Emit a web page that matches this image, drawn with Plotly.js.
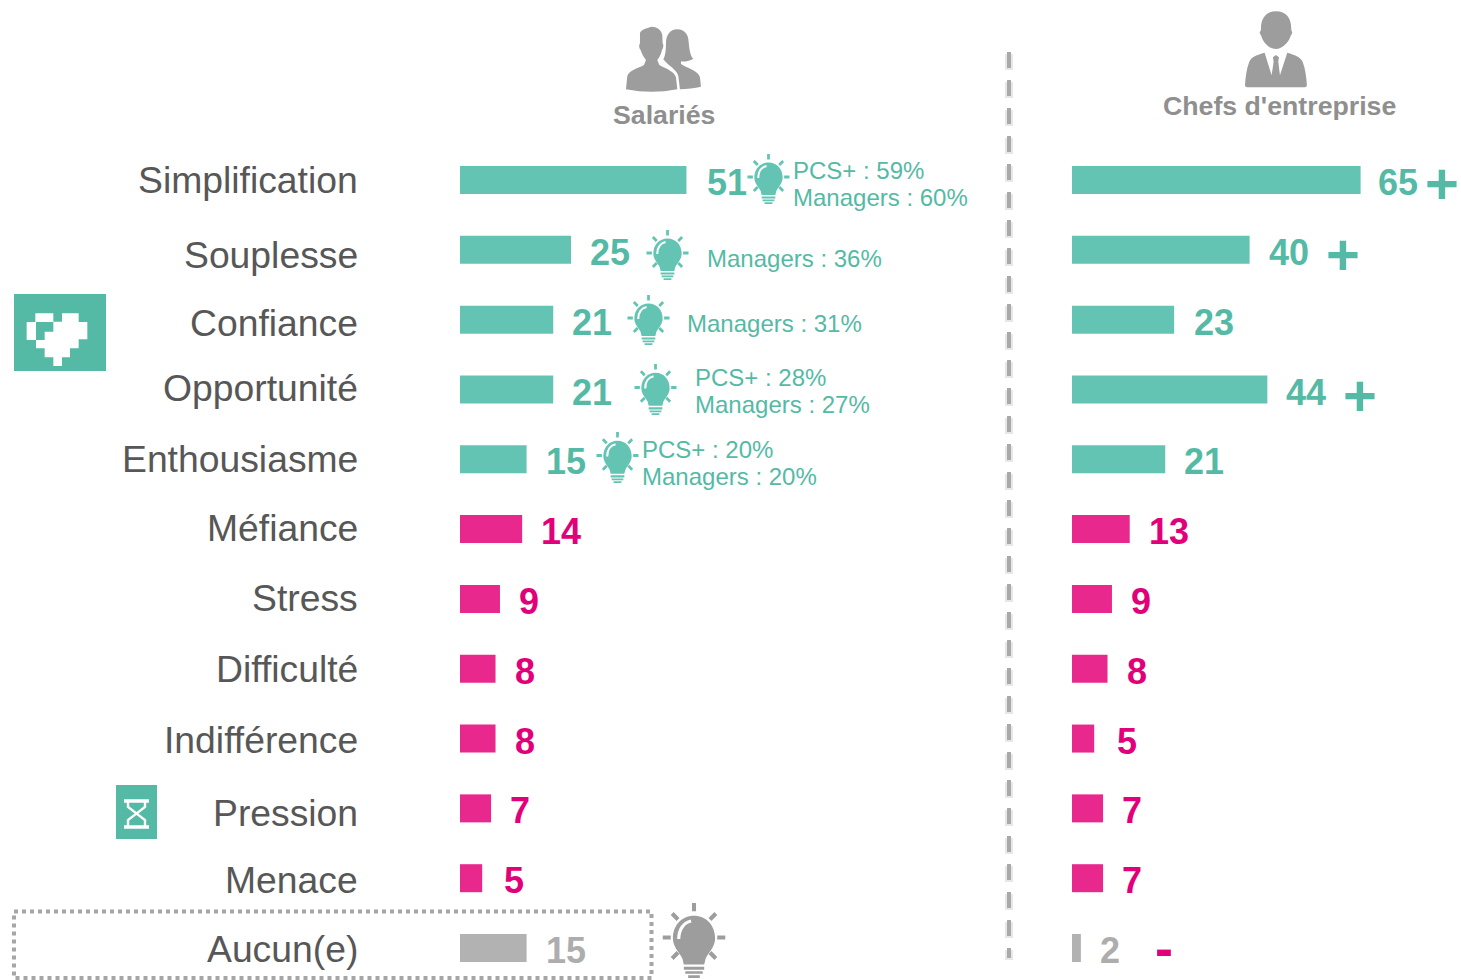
<!DOCTYPE html>
<html><head><meta charset="utf-8">
<script src="https://cdn.plot.ly/plotly-3.0.1.min.js"></script>
<style>html,body{margin:0;padding:0;background:#fff}</style>
</head><body><div id="chart" style="width:1461px;height:980px"></div>
<script>
const categories=["Simplification","Souplesse","Confiance","Opportunité","Enthousiasme","Méfiance","Stress","Difficulté","Indifférence","Pression","Menace","Aucun(e)"];
const salaries=[51,25,21,21,15,14,9,8,8,7,5,15];
const chefs=[65,40,23,44,21,13,9,8,5,7,7,2];
const groups=["pos","pos","pos","pos","pos","neg","neg","neg","neg","neg","neg","none"];
const notes1=["PCS+ : 59%","Managers : 36%","Managers : 31%","PCS+ : 28%","PCS+ : 20%"];
const notes2=["Managers : 60%","","","Managers : 27%","Managers : 20%"];

const W=1461,H=980,FONT='"Liberation Sans",Arial,sans-serif';
const barCol={pos:"#64C4B3",neg:"#E8288C",none:"#B2B2B2"};
const txtCol={pos:"#54BAA5",neg:"#E2007A",none:"#ADADAD"};
const TEAL="#54BAA5",GREY="#9D9D9D";
const px=x=>x/W, py=y=>1-y/H;
const unit=4.44, rowH=69.82, row0=180;

const labelShift=[0,5,3,-1,0,-1,-1,0,1,5,2,1];
const valueShift=[2.5,3,3,3,2.5,2,3,3,3,2,2,2];
const salGap=[20.5,19,18.5,18.5,19,19,19,19,19,19,22,19];
const chefGap=[17,19,19.5,19,19,19,19,19,22.5,19,19,19];

const traces=[
 {type:"bar",orientation:"h",y:categories,x:salaries,xaxis:"x",yaxis:"y",width:0.401,marker:{color:groups.map(g=>barCol[g])},hoverinfo:"skip",name:"Salariés"},
 {type:"bar",orientation:"h",y:categories,x:chefs,xaxis:"x2",yaxis:"y",width:0.401,marker:{color:groups.map(g=>barCol[g])},hoverinfo:"skip",name:"Chefs d'entreprise"}
];

const ann=[];
function add(o){ann.push(Object.assign({showarrow:false,borderpad:0,borderwidth:0,align:"left",xanchor:"left",yanchor:"middle"},o));}
function pTxt(t,x,y,size,color,extra){add(Object.assign({text:t,xref:"paper",yref:"paper",x:px(x),y:py(y),font:{family:FONT,size:size,color:color}},extra||{}));}

categories.forEach((c,i)=>{
  add({text:c,xref:"paper",yref:"y",x:px(357.5),y:c,yshift:-labelShift[i],xanchor:"right",align:"right",font:{family:FONT,size:37.3,color:"#575757"}});
  add({text:"<b>"+salaries[i]+"</b>",xref:"x",yref:"y",x:salaries[i],y:c,xshift:salGap[i],yshift:-valueShift[i],font:{family:FONT,size:36,color:txtCol[groups[i]]}});
  add({text:"<b>"+chefs[i]+"</b>",xref:"x2",yref:"y",x:chefs[i],y:c,xshift:chefGap[i],yshift:-valueShift[i],font:{family:FONT,size:36,color:txtCol[groups[i]]}});
});

pTxt("<b>Salariés</b>",664,115,26.7,"#8F8F8F",{xanchor:"center",align:"center"});
pTxt("<b>Chefs d'entreprise</b>",1279,106,26.7,"#8F8F8F",{xanchor:"center",align:"center"});

const noteX=[793,707,687,695,642];
const noteY1=[171,258,324,378,449];
noteX.forEach((x,i)=>{
  pTxt(notes1[i],x,noteY1[i],24,TEAL);
  if(notes2[i]) pTxt(notes2[i],x,noteY1[i]+27,24,TEAL);
});

pTxt("<b>+</b>",1441.5,183.5,58,TEAL,{xanchor:"center",align:"center"});
pTxt("<b>+</b>",1343,254.5,58,TEAL,{xanchor:"center",align:"center"});
pTxt("<b>+</b>",1360,396,58,TEAL,{xanchor:"center",align:"center"});
pTxt("<b>-</b>",1163.5,948,54,"#E2007A",{xanchor:"center",align:"center"});

const shapes=[
 {type:"line",xref:"paper",yref:"paper",x0:px(1009),x1:px(1009),y0:py(54),y1:py(960),line:{color:"rgba(170,170,170,0.28)",width:8,dash:"16px,12px"},layer:"below"},
 {type:"line",xref:"paper",yref:"paper",x0:px(1009),x1:px(1009),y0:py(52),y1:py(958),line:{color:"#A9A9A9",width:4,dash:"16px,12px"},layer:"below"},
 {type:"rect",xref:"paper",yref:"paper",x0:px(14),x1:px(651.5),y0:py(911.5),y1:py(978),line:{color:"#A6A6A6",width:4,dash:"4px,4px"},fillcolor:"rgba(0,0,0,0)",layer:"below"}
];

function bulb(c){return `<svg xmlns="http://www.w3.org/2000/svg" viewBox="0 0 44 50" preserveAspectRatio="none"><g stroke="${c}" stroke-width="2.8" fill="none"><path d="M22 0V5.5M0.5 23H6M38 23H43.5M7 7L11 11M37 7L33 11M7 37L11 33M37 37L33 33"/></g><path fill="${c}" d="M22 8.5C30.5 8.5 36.5 15 36.5 23.5C36.5 29.5 32 33 30 37L29 41H15L14 37C12 33 7.5 29.5 7.5 23.5C7.5 15 13.5 8.5 22 8.5Z"/><path d="M11.5 24C11.5 17.5 15 13 20 12" stroke="#fff" stroke-width="2.2" fill="none"/><path fill="${c}" d="M15 42.5H29V44.5H15ZM16 45.5H28V47.2H16ZM18 48.2H26V50H18Z"/></svg>`;}
const men=`<svg xmlns="http://www.w3.org/2000/svg" viewBox="70 70 240 210" preserveAspectRatio="none"><path fill="${GREY}" d="M155 80C170 80 185 90 187 105L188 130C192 135 190 145 186 150C183 165 178 172 172 180L178 195C195 205 222 212 228 232L232 268C180 278 130 278 78 268L82 228C88 210 115 205 132 195L138 180C130 170 125 160 122 150C117 145 116 135 120 130L120 100C122 88 140 85 155 80Z"/><path fill="${GREY}" d="M232 88C255 88 265 105 266 125C268 150 272 170 280 176C270 182 255 186 243 184L243 192C262 205 295 212 300 232L303 260C285 265 260 267 240 268L235 228C230 208 205 198 190 178C196 170 198 150 198 130C198 105 210 88 232 88Z"/></svg>`;
const boss=`<svg xmlns="http://www.w3.org/2000/svg" viewBox="730 30 196 236" preserveAspectRatio="none"><path fill="${GREY}" d="M828 34C860 34 875 55 874 90L877 98L872 108C865 130 845 147 828 147C810 147 790 130 784 108L779 98L783 90C782 55 797 34 828 34Z"/><path fill="${GREY}" d="M794 158C770 165 755 170 748 185C740 205 737 230 735 255Q735 262 742 262H914Q921 262 921 255C919 230 916 205 908 185C900 170 885 165 862 158L840 226L835 185L837 172L828 165L819 172L821 185L815 226Z"/></svg>`;
const heart=`<svg xmlns="http://www.w3.org/2000/svg" viewBox="42 42 276 231" preserveAspectRatio="none"><rect x="42" y="42" width="276" height="231" fill="#54BAA5"/><path fill="#fff" d="M106 100H160V125H186V100H236V126H262V178H236V205H210V232H186V258H160V232H134V205H108V180H80V126H106Z"/><path fill="#54BAA5" d="M108 126H160V155H134V180H108Z"/></svg>`;
const hourglass=`<svg xmlns="http://www.w3.org/2000/svg" viewBox="0 0 41 54" preserveAspectRatio="none"><rect width="41" height="54" fill="#54BAA5"/><g fill="none" stroke="#fff"><path stroke-width="3.5" d="M8 16H33M8 42H33"/><path stroke-width="2.4" d="M12 17V22L29 35V41M29 17V22L12 35V41"/></g></svg>`;

const uri=s=>"data:image/svg+xml,"+encodeURIComponent(s);
function img(s,x,y,w,h){return {source:uri(s),xref:"paper",yref:"paper",x:px(x),y:py(y),sizex:w/W,sizey:h/H,xanchor:"left",yanchor:"top",sizing:"stretch",layer:"above"};}
const images=[
 img(bulb("#64C4B3"),747,154,43,50),
 img(bulb("#64C4B3"),646,230,43,50),
 img(bulb("#64C4B3"),627,295,43,50),
 img(bulb("#64C4B3"),634,364,43,51),
 img(bulb("#64C4B3"),596,432,43,51),
 img(bulb(GREY),662,903,64,75),
 img(men,623.3,23.3,80,70),
 img(boss,1243.3,10,65.3,78.7),
 img(heart,14,294,92,77),
 img(hourglass,116,785,41,54)
];

const layout={
 width:W,height:H,margin:{l:0,r:0,t:0,b:0,pad:0},paper_bgcolor:"#fff",plot_bgcolor:"#fff",showlegend:false,barmode:"overlay",hovermode:false,
 xaxis:{domain:[px(460),px(1000)],range:[0,540/unit],visible:false,fixedrange:true},
 xaxis2:{domain:[px(1072),1],range:[0,389/unit],visible:false,fixedrange:true,anchor:"y"},
 yaxis:{type:"category",categoryorder:"array",categoryarray:categories,range:[(H-row0)/rowH,-row0/rowH],visible:false,fixedrange:true,domain:[0,1]},
 annotations:ann,shapes:shapes,images:images
};
Plotly.newPlot("chart",traces,layout,{displayModeBar:false,staticPlot:true});
</script></body></html>
